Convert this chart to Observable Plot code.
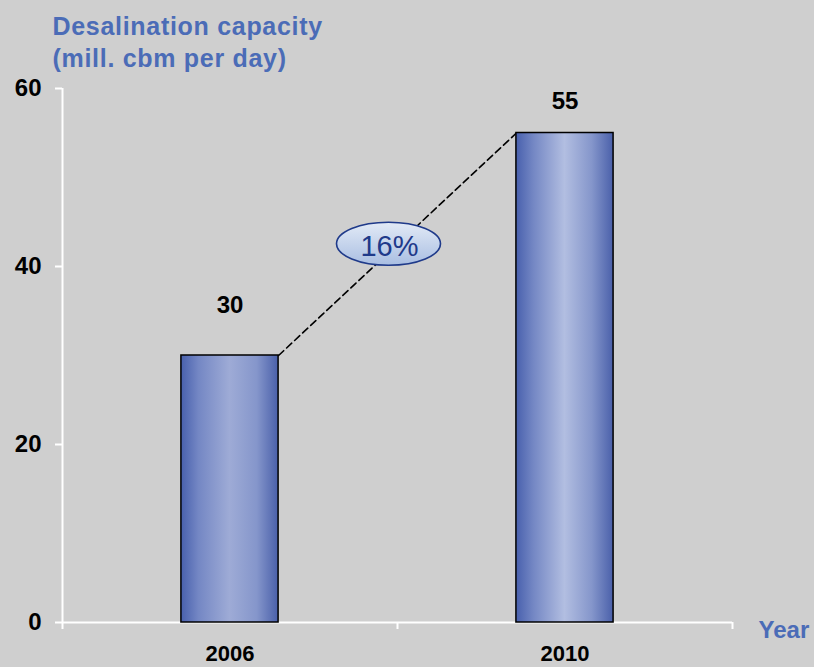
<!DOCTYPE html>
<html>
<head>
<meta charset="utf-8">
<script src="https://cdn.jsdelivr.net/npm/d3@7"></script>
<script src="https://cdn.jsdelivr.net/npm/@observablehq/plot@0.6"></script>
<style>
  html, body { margin: 0; padding: 0; background: #cfcfcf; }
  svg { display: block; }
</style>
</head>
<body>
<div id="chart"></div>
<script>
const years = ["2006", "2010"];
const capacity = [30, 55];
const yTicks = [0, 20, 40, 60];
const growthLabel = "16%";
const titleText = "Desalination capacity\n(mill. cbm per day)";
const xAxisTitle = "Year";

const data = years.map((year, i) => ({year, value: capacity[i], i}));
const hw = 0.145; // half bar width in band units
const connector = [
  {x: data[0].i + 0.5 + hw, y: data[0].value},
  {x: data[1].i + 0.5 - hw, y: data[1].value}
];
const mid = [{x: (connector[0].x + connector[1].x) / 2, y: (connector[0].y + connector[1].y) / 2}];

const font = "'Liberation Sans', Arial, sans-serif";
const blue = "#4b6cb7";

const chart = Plot.plot({
  width: 814,
  height: 667,
  marginTop: 88,
  marginBottom: 45,
  marginLeft: 62,
  marginRight: 82,
  style: {background: "#cfcfcf", fontFamily: font, color: "black"},
  x: {type: "linear", domain: [0, years.length], axis: null},
  y: {domain: [0, 60], axis: null},
  marks: [
    Plot.ruleX([0], {stroke: "white", strokeWidth: 2}),
    Plot.ruleY([0], {stroke: "white", strokeWidth: 2}),
    Plot.axisY(yTicks, {label: null, tickSize: 7, stroke: "white", strokeWidth: 2, tickPadding: 14, fontSize: 24, fontWeight: "bold", fill: "black"}),
    Plot.axisX(d3.range(years.length + 1), {label: null, tickSize: 7, stroke: "white", strokeWidth: 2, tickFormat: () => ""}),
    Plot.axisX(data.map(d => d.i + 0.5), {label: null, tickSize: 0, tickPadding: 23, tickFormat: d => years[Math.floor(d)], fontSize: 22, fontWeight: "bold", fill: "black"}),
    Plot.line(connector, {x: "x", y: "y", stroke: "black", strokeWidth: 1.6, strokeDasharray: "7,4"}),
    Plot.rectY(data.filter(d => d.i === 0), {x1: d => d.i + 0.5 - hw, x2: d => d.i + 0.5 + hw, y: "value", fill: "url(#grad0)", stroke: "black", strokeWidth: 1.5}),
    Plot.rectY(data.filter(d => d.i === 1), {x1: d => d.i + 0.5 - hw, x2: d => d.i + 0.5 + hw, y: "value", fill: "url(#grad1)", stroke: "black", strokeWidth: 1.5}),
    Plot.text(data.filter(d => d.i === 0), {x: d => d.i + 0.5, y: "value", text: d => String(d.value), dy: -50, fontSize: 24, fontWeight: "bold", fill: "black"}),
    Plot.text(data.filter(d => d.i === 1), {x: d => d.i + 0.5, y: "value", text: d => String(d.value), dy: -32, fontSize: 24, fontWeight: "bold", fill: "black"}),
    Plot.text([titleText], {frameAnchor: "top-left", dx: -10, dy: -76, textAnchor: "start", lineAnchor: "top", lineHeight: 1.28, fontSize: 25, fontWeight: "bold", fill: blue}),
    Plot.text([xAxisTitle], {frameAnchor: "bottom-right", dx: 26, dy: 8, textAnchor: "start", lineAnchor: "middle", fontSize: 24, fontWeight: "bold", fill: blue})
  ]
});

// gradients
const svg = d3.select(chart);
const defs = svg.insert("defs", ":first-child");
function grad(id, center) {
  const g = defs.append("linearGradient").attr("id", id).attr("x1", "0").attr("x2", "1").attr("y1", "0").attr("y2", "0");
  [[0, "#4860ad"], [0.18, "#7487c4"], [0.5, center], [0.78, "#8596cb"], [1, "#4a60aa"]]
    .forEach(([o, c]) => g.append("stop").attr("offset", o).attr("stop-color", c));
}
grad("grad0", "#9eabd6");
grad("grad1", "#b2bee1");
const eg = defs.append("linearGradient").attr("id", "ellg").attr("x1", "0").attr("x2", "0").attr("y1", "0").attr("y2", "1");
eg.append("stop").attr("offset", 0).attr("stop-color", "#e2eaf6");
eg.append("stop").attr("offset", 1).attr("stop-color", "#a9bee2");

// title letter spacing
svg.selectAll("text").filter(function() { return this.textContent.startsWith("Desalination"); })
  .style("letter-spacing", "0.7px");

// growth ellipse on connector midpoint
const xs = chart.scale("x"), ys = chart.scale("y");
const cx = xs.apply(mid[0].x) - 8.5, cy = ys.apply(mid[0].y);
const gE = svg.append("g");
gE.append("ellipse").attr("cx", cx).attr("cy", cy).attr("rx", 52).attr("ry", 21.5)
  .attr("fill", "url(#ellg)").attr("stroke", "#1f3a8a").attr("stroke-width", 1.6);
gE.append("text").attr("x", cx + 1).attr("y", cy + 2).attr("text-anchor", "middle").attr("dy", "0.35em")
  .attr("font-family", font).attr("font-size", 29).attr("fill", "#1f3a8a").text(growthLabel);

document.getElementById("chart").appendChild(chart);
</script>
</body>
</html>
